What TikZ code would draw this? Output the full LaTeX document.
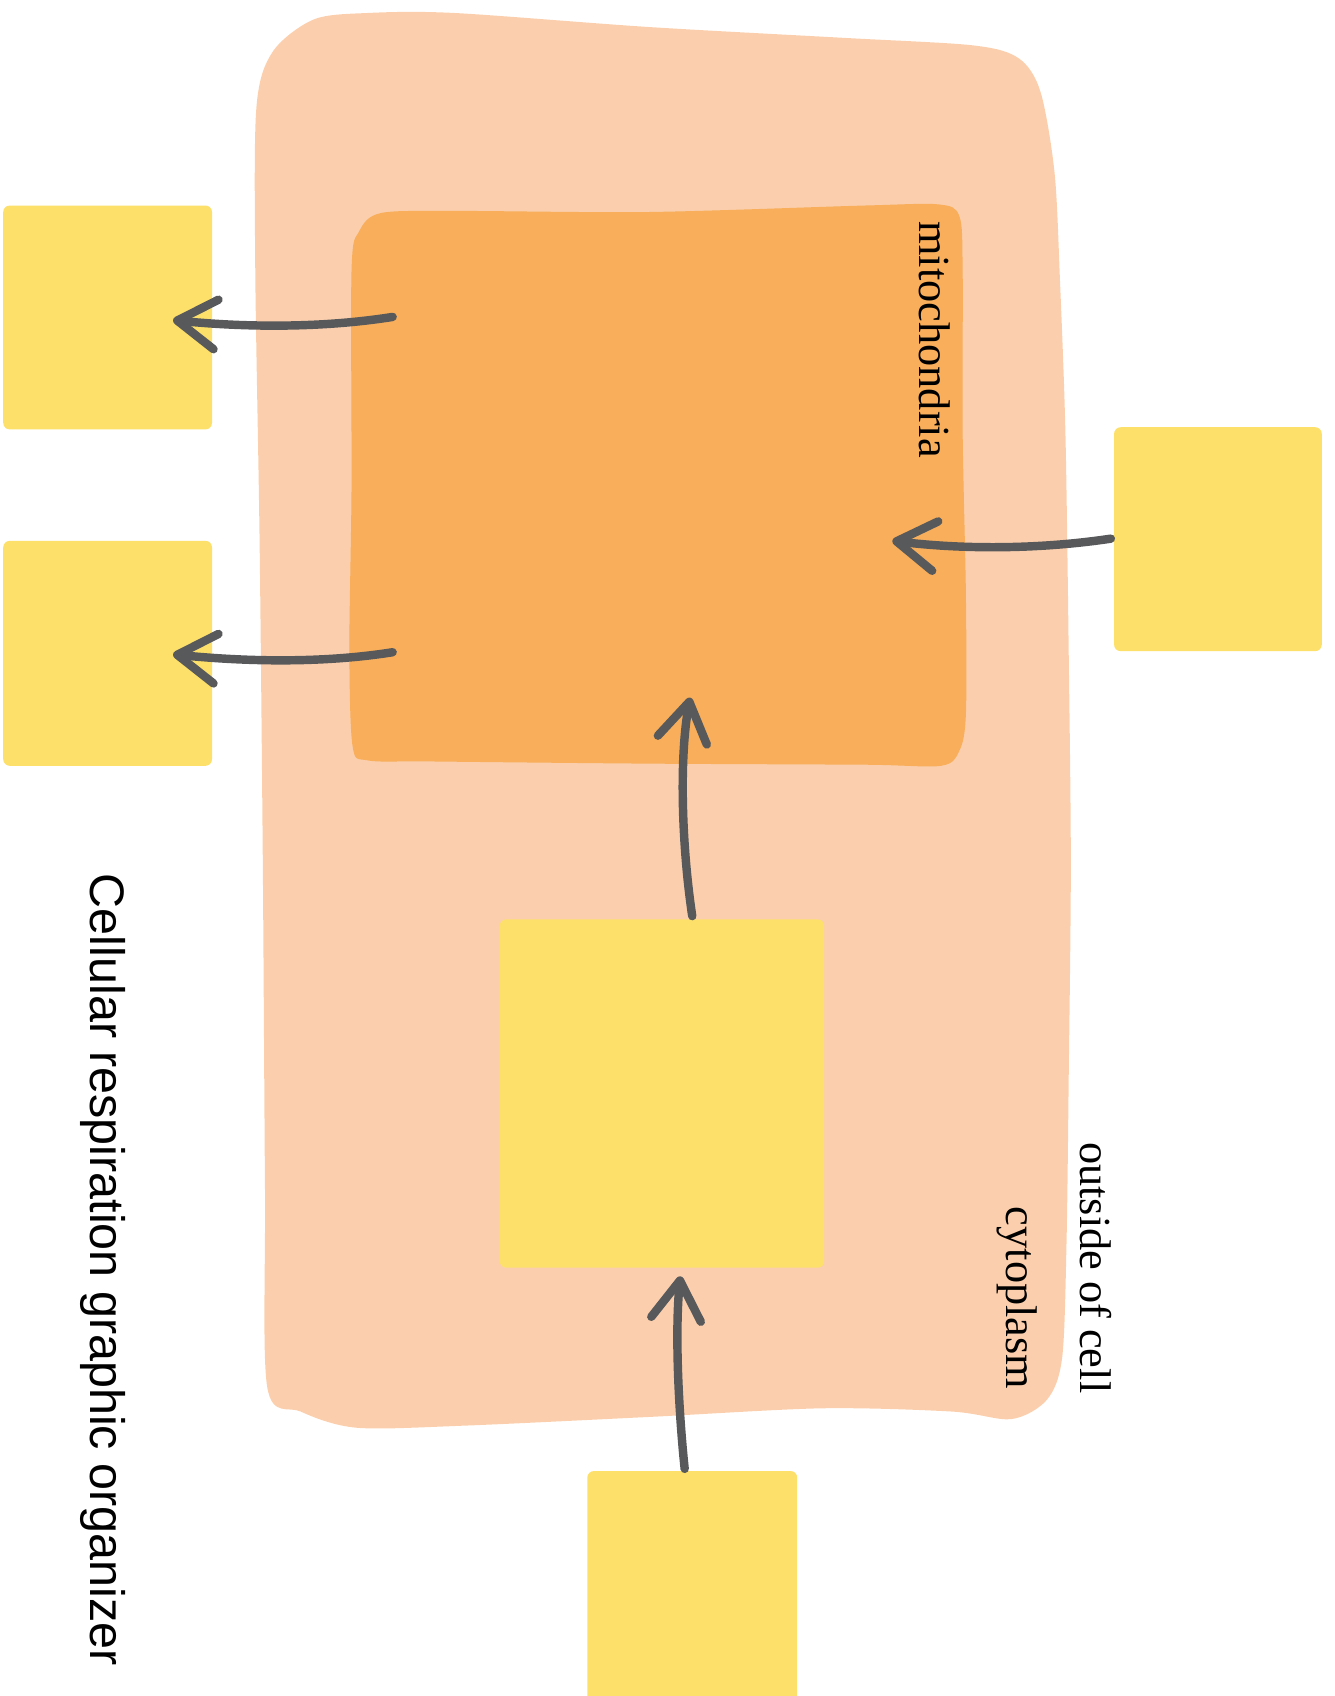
\documentclass[tikz,border=0pt]{standalone}
\usepackage{fontspec}
\setmainfont{Liberation Serif}
\setsansfont{Liberation Sans}
\usetikzlibrary{arrows.meta}
\definecolor{cyto}{RGB}{251,207,173}
\definecolor{mito}{RGB}{248,174,90}
\definecolor{ybox}{RGB}{253,224,106}
\definecolor{arrgray}{RGB}{88,89,91}
\tikzset{
  yellowbox/.style={fill=ybox, rounded corners=3pt, inner sep=0pt, draw=none},
  arr/.style={draw=arrgray, line width=3.9pt, line cap=round,
    -{Straight Barb[length=18pt, width=23pt, line cap=round, line join=round]}},
  serlabel/.style={rotate=-90, font=\fontsize{20.5}{24}\selectfont, inner sep=0pt},
}
\begin{document}
\begin{tikzpicture}[x=0.5pt, y=-0.5pt]
\useasboundingbox (0,0) rectangle (1234,1568);
% cytoplasm
\fill[cyto] plot[smooth cycle, tension=0.5] coordinates {
 (237,100) (252,48) (290,18) (340,12) (420,12) (600,25) (780,35) (900,42) (942,54)
 (962,85) (975,160) (980,260) (985,400) (988,600) (990,800) (988,1000) (986,1150)
 (982,1255) (968,1294) (935,1312) (880,1305) (760,1302) (600,1310) (430,1318)
 (330,1320) (278,1305) (247,1282) (245,1100) (243,800) (240,500) (236,250)};
% mitochondria
\fill[mito] plot[smooth cycle, tension=0.5] coordinates {
 (325,250) (332,214) (352,197) (420,195) (600,196) (800,190) (868,189) (887,200)
 (890,250) (890,400) (893,550) (893,660) (887,694) (870,708) (800,707) (600,706)
 (400,704) (340,703) (326,690) (323,600) (325,450)};
% yellow boxes
\node[yellowbox, minimum width=96.5pt, minimum height=103.5pt] (boxA) at (99.5,293.5) {};
\node[yellowbox, minimum width=96.5pt, minimum height=104pt] (boxB) at (99.5,604) {};
\node[yellowbox, minimum width=96pt, minimum height=103.5pt] (boxC) at (1126,498.5) {};
\node[yellowbox, minimum width=150pt, minimum height=161pt] (boxD) at (612,1011) {};
\node[yellowbox, minimum width=97pt, minimum height=110pt] (boxE) at (640,1470) {};
% labels
\node[serlabel] (mitolabel) at (864,314) {mitochondria};
\node[serlabel] (outlabel) at (1013,1172) {outside of cell};
\node[serlabel] (cytolabel) at (940,1200) {cytoplasm};
\node[rotate=-90, inner sep=0pt, font=\sffamily\fontsize{22.4}{26}\selectfont] (title) at (95,1174) {Cellular respiration graphic organizer};
% arrow endpoints
\coordinate (a1s) at (363,293); \coordinate (a1e) at (160,296);
\coordinate (a2s) at (363,603); \coordinate (a2e) at (160,605);
\coordinate (a3s) at (1027,498); \coordinate (a3e) at (825,500);
\coordinate (a4s) at (640,847); \coordinate (a4e) at (638,645);
\coordinate (a5s) at (633,1358); \coordinate (a5e) at (629,1180);
% arrows
\draw[arr] (a1s) .. controls (300,303) and (230,303) .. (a1e);
\draw[arr] (a2s) .. controls (300,613) and (230,612) .. (a2e);
\draw[arr] (a3s) .. controls (960,508) and (890,508) .. (a3e);
\draw[arr] (a4s) .. controls (630,780) and (628,700) .. (a4e);
\draw[arr] (a5s) .. controls (627,1300) and (624,1230) .. (a5e);
\end{tikzpicture}
\end{document}
